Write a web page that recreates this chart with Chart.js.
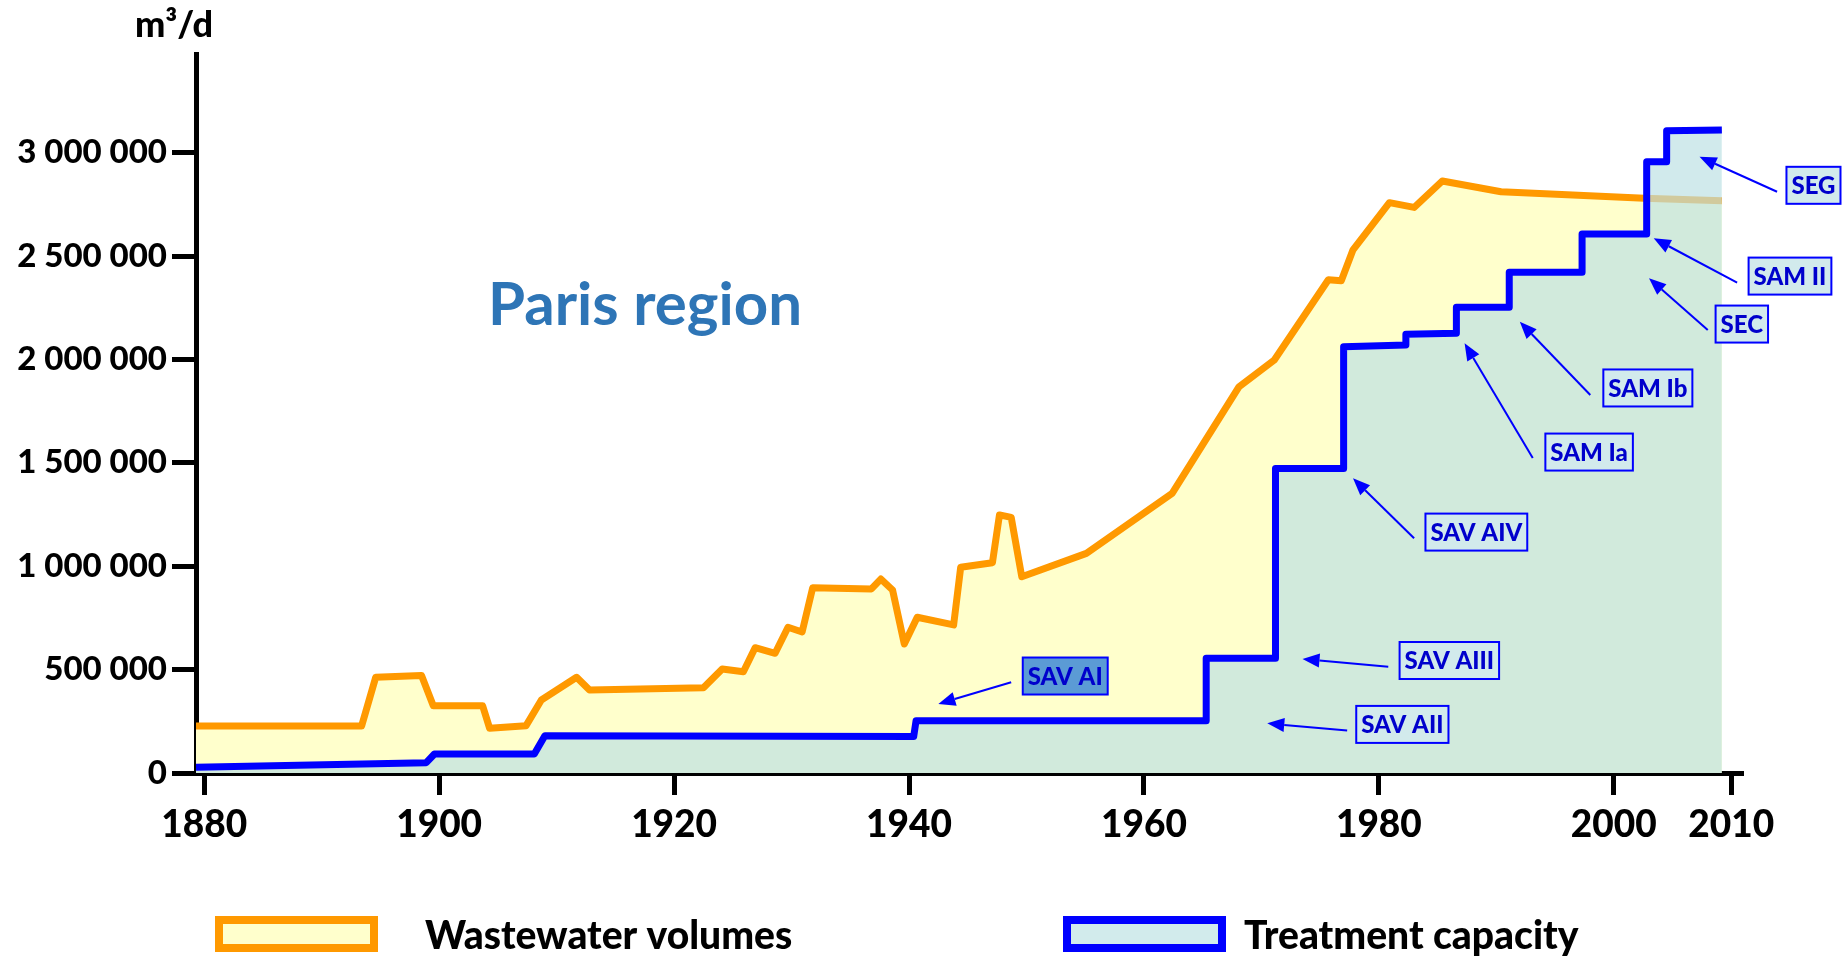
<!DOCTYPE html>
<html>
<head>
<meta charset="utf-8">
<script src="https://cdn.jsdelivr.net/npm/chart.js@4.4.1/dist/chart.umd.min.js"></script>
<style>
  html, body { margin: 0; padding: 0; background: #fff; }
  canvas { display: block; }
</style>
</head>
<body>
<canvas id="chart" width="1842" height="957"></canvas>
<script>
const xTicks = [1880, 1900, 1920, 1940, 1960, 1980, 2000, 2010];
const yTicks = [0, 500000, 1000000, 1500000, 2000000, 2500000, 3000000];

// wastewater volumes (m3/d)
const wastewaterYears = [1879.3, 1893.4, 1894.6, 1898.5, 1899.5, 1903.7, 1904.3, 1907.4, 1908.7, 1911.7,
    1912.8, 1922.5, 1924.1, 1925.9, 1926.9, 1928.6, 1929.7, 1930.9, 1931.8, 1936.8,
    1937.6, 1938.6, 1939.6, 1940.7, 1943.8, 1944.4, 1947.1, 1947.7, 1948.7, 1949.6,
    1955.1, 1962.4, 1968.1, 1971.1, 1975.7, 1976.8, 1977.8, 1980.9, 1983.0, 1985.4,
    1990.4, 2002.6, 2009.2];
const wastewaterValues = [227000, 227000, 463000, 472000, 325000, 325000, 216000, 229000, 353000, 463000,
    401000, 412000, 503000, 490000, 606000, 579000, 705000, 682000, 896000, 890000,
    938000, 885000, 624000, 753000, 716000, 995000, 1017000, 1248000, 1236000, 949000,
    1062000, 1352000, 1868000, 1997000, 2385000, 2380000, 2530000, 2758000, 2735000, 2863000,
    2811000, 2779000, 2767000];

// treatment capacity (m3/d)
const capacityYears = [1879.3, 1898.9, 1899.6, 1908.1, 1909.0, 1940.4, 1940.6, 1965.3, 1965.3, 1971.2,
    1971.2, 1977.0, 1977.0, 1982.3, 1982.3, 1986.6, 1986.6, 1991.1, 1991.1, 1997.3,
    1997.3, 2002.8, 2002.8, 2004.5, 2004.5, 2009.2];
const capacityValues = [28000, 50000, 92000, 92000, 180000, 176000, 253000, 253000, 555000, 555000,
    1473000, 1473000, 2061000, 2070000, 2122000, 2126000, 2252000, 2252000, 2421000, 2421000,
    2606000, 2606000, 2956000, 2956000, 3106000, 3109000];

// plant labels: box centre and arrow, in data units
const plantLabels = [
    { text: 'SAV AI', x: 1953.3, y: 469000, from: [1948.7, 439000], to: [1942.5, 334000], dark: true },
    { text: 'SAV AII', x: 1982.0, y: 235000, from: [1977.3, 205000], to: [1970.5, 240000] },
    { text: 'SAV AIII', x: 1986.0, y: 544000, from: [1980.8, 514000], to: [1973.5, 551000] },
    { text: 'SAV AIV', x: 1988.3, y: 1165000, from: [1983.0, 1135000], to: [1977.8, 1425000] },
    { text: 'SAM Ia', x: 1997.9, y: 1552000, from: [1993.1, 1523000], to: [1987.3, 2078000] },
    { text: 'SAM Ib', x: 2002.9, y: 1862000, from: [1998.0, 1828000], to: [1992.0, 2182000] },
    { text: 'SEC', x: 2010.9, y: 2171000, from: [2008.0, 2142000], to: [2003.0, 2392000] },
    { text: 'SAM II', x: 2015.0, y: 2403000, from: [2010.5, 2371000], to: [2003.4, 2586000] },
    { text: 'SEG', x: 2017.0, y: 2842000, from: [2013.9, 2811000], to: [2007.3, 2980000] }
];

const fontFamily = 'Lato, "Open Sans", sans-serif';
const toPoints = (xs, ys) => xs.map((x, i) => ({ x: x, y: ys[i] }));
const spaced = v => String(v).replace(/\B(?=(\d{3})+(?!\d))/g, ' ');

const drawArrow = (ctx, x1, y1, x2, y2) => {
    const ang = Math.atan2(y2 - y1, x2 - x1);
    const head = 17;
    const half = 7;
    const bx = x2 - head * Math.cos(ang);
    const by = y2 - head * Math.sin(ang);
    ctx.beginPath();
    ctx.moveTo(x1, y1);
    ctx.lineTo(bx, by);
    ctx.stroke();
    ctx.beginPath();
    ctx.moveTo(x2, y2);
    ctx.lineTo(bx + half * Math.sin(ang), by - half * Math.cos(ang));
    ctx.lineTo(bx - half * Math.sin(ang), by + half * Math.cos(ang));
    ctx.closePath();
    ctx.fill();
};

const labelsPlugin = {
    id: 'plantLabels',
    afterDatasetsDraw(chart) {
        const ctx = chart.ctx;
        const xs = chart.scales.x;
        const ys = chart.scales.y;
        ctx.save();
        ctx.strokeStyle = '#0000FF';
        ctx.fillStyle = '#0000FF';
        ctx.lineWidth = 2;
        plantLabels.forEach(l => {
            drawArrow(ctx, xs.getPixelForValue(l.from[0]), ys.getPixelForValue(l.from[1]),
                xs.getPixelForValue(l.to[0]), ys.getPixelForValue(l.to[1]));
        });
        ctx.font = '900 24px ' + fontFamily;
        ctx.textAlign = 'center';
        ctx.textBaseline = 'middle';
        plantLabels.forEach(l => {
            const cx = xs.getPixelForValue(l.x);
            const cy = ys.getPixelForValue(l.y);
            const w = ctx.measureText(l.text).width + 10;
            const h = 37;
            ctx.fillStyle = l.dark ? '#5B9BD5' : '#D2EAEC';
            ctx.fillRect(cx - w / 2, cy - h / 2, w, h);
            ctx.strokeStyle = '#0000FF';
            ctx.strokeRect(cx - w / 2, cy - h / 2, w, h);
            ctx.fillStyle = '#0000CC';
            ctx.fillText(l.text, cx, cy + 1);
        });
        ctx.restore();
    },
    afterDraw(chart) {
        const ctx = chart.ctx;
        ctx.save();
        // unit and region title
        ctx.fillStyle = '#000';
        ctx.font = '900 36px ' + fontFamily;
        ctx.textAlign = 'center';
        ctx.textBaseline = 'alphabetic';
        ctx.fillText('m³/d', 174, 37);
        ctx.fillStyle = '#2E75B6';
        ctx.font = 'bold 60px ' + fontFamily;
        ctx.textAlign = 'left';
        ctx.fillText('Paris region', 488, 325);

        // legend
        const items = [
            { ds: chart.data.datasets[1], box: 215, text: 425 },
            { ds: chart.data.datasets[0], box: 1063, text: 1244 }
        ];
        ctx.font = '900 39px ' + fontFamily;
        ctx.textBaseline = 'middle';
        items.forEach(it => {
            ctx.fillStyle = it.ds.legendFill;
            ctx.fillRect(it.box + 4, 920, 155, 28);
            ctx.strokeStyle = it.ds.borderColor;
            ctx.lineWidth = 8;
            ctx.strokeRect(it.box + 4, 920, 155, 28);
            ctx.fillStyle = '#000';
            ctx.fillText(it.ds.label, it.text, 936);
        });
        ctx.restore();
    }
};

const ctx = document.getElementById('chart').getContext('2d');
new Chart(ctx, {
    type: 'line',
    data: {
        datasets: [{
            label: 'Treatment capacity',
            data: toPoints(capacityYears, capacityValues),
            borderColor: '#0000FF',
            backgroundColor: 'rgba(188, 224, 227, 0.69)',
            legendFill: '#D2EBEC',
            borderWidth: 7,
            fill: 'origin',
            pointRadius: 0,
            tension: 0,
            borderJoinStyle: 'round',
            order: 1
        }, {
            label: 'Wastewater volumes',
            data: toPoints(wastewaterYears, wastewaterValues),
            borderColor: '#FF9900',
            backgroundColor: '#FFFFCC',
            legendFill: '#FFFFCC',
            borderWidth: 7,
            fill: 'origin',
            pointRadius: 0,
            tension: 0,
            borderJoinStyle: 'round',
            order: 2
        }]
    },
    options: {
        responsive: false,
        animation: false,
        devicePixelRatio: 1,
        layout: { padding: { left: 0, right: 99, top: 54, bottom: 0 } },
        plugins: {
            legend: { display: false },
            tooltip: { enabled: false }
        },
        scales: {
            x: {
                type: 'linear',
                min: 1879.3,
                max: 2011,
                afterBuildTicks: s => { s.ticks = xTicks.map(v => ({ value: v })); },
                afterFit: s => { s.height = 184; },
                ticks: {
                    autoSkip: false,
                    maxRotation: 0,
                    color: '#000',
                    padding: 8,
                    font: { family: fontFamily, size: 37, weight: '900' },
                    callback: v => String(v)
                },
                grid: { drawOnChartArea: false, drawTicks: true, tickLength: 22, tickWidth: 5, color: '#000' },
                border: { display: true, color: '#000', width: 5 }
            },
            y: {
                min: 0,
                max: 3477000,
                afterBuildTicks: s => { s.ticks = yTicks.map(v => ({ value: v })); },
                afterFit: s => { s.width = 196; },
                ticks: {
                    color: '#000',
                    padding: 5,
                    font: { family: fontFamily, size: 33, weight: '900' },
                    callback: v => spaced(v)
                },
                grid: { drawOnChartArea: false, drawTicks: true, tickLength: 24, tickWidth: 5, color: '#000' },
                border: { display: true, color: '#000', width: 5 }
            }
        }
    },
    plugins: [labelsPlugin]
});
</script>
</body>
</html>
